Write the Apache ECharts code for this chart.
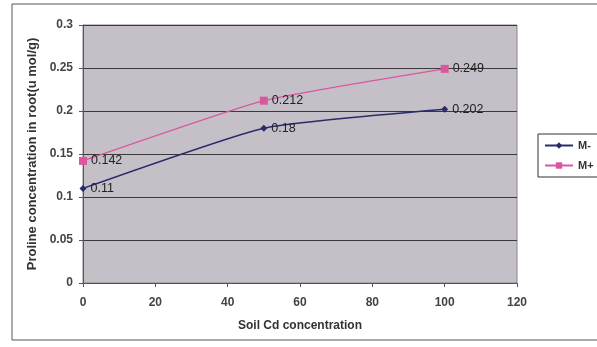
<!DOCTYPE html>
<html>
<head>
<meta charset="utf-8">
<script src="https://cdn.jsdelivr.net/npm/echarts@6/dist/echarts.min.js"></script>
<style>
  html, body { margin: 0; padding: 0; background: #fff; }
  #chart { width: 597px; height: 347px; }
</style>
</head>
<body>
<div id="chart"></div>
<script>
var xValues = [0, 50, 100];
var mMinus = [0.11, 0.18, 0.202];
var mPlus = [0.142, 0.212, 0.249];
var xTicks = [0, 20, 40, 60, 80, 100, 120];
var yTicks = [0, 0.05, 0.1, 0.15, 0.2, 0.25, 0.3];

var pairs = function (xs, ys) {
    var res = [];
    for (var i = 0; i < xs.length; i++) {
        res.push([xs[i], ys[i]]);
    }
    return res;
};

var chart = echarts.init(document.getElementById('chart'));

var labelStyle = {
    show: true,
    position: 'right',
    distance: 4,
    color: '#222',
    fontSize: 12.5,
    fontFamily: 'Liberation Sans'
};

var option = {
    animation: false,
    textStyle: { fontFamily: 'Liberation Sans' },
    graphic: [{
        type: 'rect',
        shape: { x: 12, y: 4, width: 600, height: 336 },
        style: { fill: 'none', stroke: '#555', lineWidth: 1 },
        z: -10
    }],
    grid: {
        left: 83, right: 80, top: 25, bottom: 64,
        show: true,
        backgroundColor: '#c5c0c8',
        borderColor: '#8a8590',
        borderWidth: 1
    },
    legend: {
        orient: 'vertical',
        left: 538,
        top: 134,
        itemWidth: 28,
        itemHeight: 8,
        itemGap: 9,
        padding: [6, 6, 6, 6],
        borderColor: '#333',
        borderWidth: 1,
        textStyle: { fontSize: 11, fontWeight: 'bold', color: '#333' },
        data: ['M-', 'M+']
    },
    xAxis: {
        type: 'value',
        min: 0, max: 120, interval: 20,
        name: 'Soil Cd concentration',
        nameLocation: 'middle',
        nameGap: 37,
        nameTextStyle: { fontSize: 12, fontWeight: 'bold', color: '#333' },
        axisLine: { lineStyle: { color: '#555' } },
        axisTick: { show: true, length: 4, lineStyle: { color: '#555' } },
        axisLabel: {
            fontSize: 12, fontWeight: 'bold', color: '#444', margin: 14,
            formatter: function (v) { return xTicks.indexOf(v) >= 0 ? String(v) : ''; }
        },
        splitLine: { show: false }
    },
    yAxis: {
        type: 'value',
        min: 0, max: 0.3, interval: 0.05,
        name: 'Proline concentration in root(u mol/g)',
        nameLocation: 'middle',
        nameGap: 42,
        nameTextStyle: { fontSize: 13, fontWeight: 'bold', color: '#333' },
        axisLine: { show: true, lineStyle: { color: '#555' } },
        axisTick: { show: true, length: 4, lineStyle: { color: '#555' } },
        axisLabel: {
            fontSize: 12, fontWeight: 'bold', color: '#444', margin: 10,
            formatter: function (v) {
                for (var i = 0; i < yTicks.length; i++) {
                    if (Math.abs(yTicks[i] - v) < 1e-9) return String(yTicks[i]);
                }
                return '';
            }
        },
        splitLine: { show: true, lineStyle: { color: '#3a3a3a', width: 1 } }
    },
    series: [{
        name: 'M-',
        type: 'line',
        data: pairs(xValues, mMinus),
        symbol: 'diamond',
        symbolSize: 7,
        smooth: 0.15,
        lineStyle: { color: '#2b2a6b', width: 1.5 },
        itemStyle: { color: '#2b2a6b' },
        label: labelStyle
    }, {
        name: 'M+',
        type: 'line',
        data: pairs(xValues, mPlus),
        symbol: 'rect',
        symbolSize: 8,
        smooth: 0.15,
        lineStyle: { color: '#d9579e', width: 1.2 },
        itemStyle: { color: '#d9579e' },
        label: labelStyle
    }]
};
chart.setOption(option);
</script>
</body>
</html>
